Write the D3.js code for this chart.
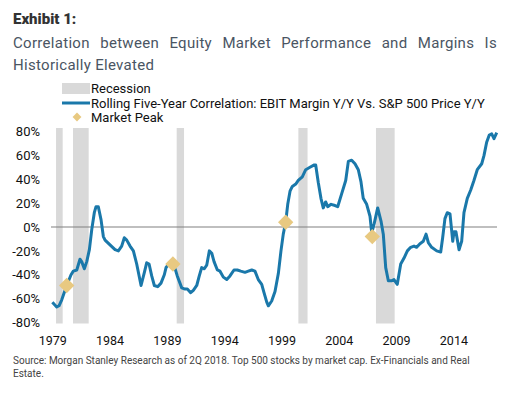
<!DOCTYPE html>
<html>
<head>
<meta charset="utf-8">
<script src="https://cdn.jsdelivr.net/npm/d3@7"></script>
<style>
	body { margin: 0; background: #fff; }
	svg { display: block; font-family: Roboto, "Noto Sans", sans-serif; }
</style>
</head>
<body>
<svg id="chart" width="517" height="398"></svg>
<script>
// quarterly readings (decimal year) and rolling 5y correlation, %
const quarters = [1979.68, 1980.06, 1980.26, 1980.50, 1980.93, 1981.31, 1981.51, 1981.81,
	1982.09, 1982.24, 1982.47, 1982.68, 1982.91, 1983.12, 1983.34, 1983.49, 1983.69, 1983.93,
	1984.13, 1984.28, 1984.71, 1985.15, 1985.44, 1985.73, 1985.96, 1986.17, 1986.46, 1986.75,
	1987.04, 1987.42, 1987.71, 1987.91, 1988.12, 1988.35, 1988.58, 1988.87, 1989.16, 1989.45,
	1989.60, 1989.95, 1990.24, 1990.58, 1990.97, 1991.26, 1991.46, 1991.75, 1991.98, 1992.28,
	1992.50, 1992.71, 1992.94, 1993.15, 1993.38, 1993.59, 1993.79, 1994.08, 1994.31, 1994.60,
	1994.90, 1995.18, 1995.53, 1995.82, 1996.12, 1996.49, 1996.78, 1997.08, 1997.36, 1997.65,
	1997.95, 1998.15, 1998.39, 1998.53, 1998.82, 1999.11, 1999.40, 1999.63, 1999.83, 2000.04,
	2000.22, 2000.42, 2000.62, 2000.92, 2001.14, 2001.49, 2001.79, 2002.16, 2002.54, 2002.66,
	2002.89, 2003.12, 2003.32, 2003.53, 2003.71, 2004.00, 2004.35, 2004.58, 2004.93, 2005.28,
	2005.51, 2005.80, 2006.09, 2006.38, 2006.61, 2006.81, 2007.11, 2007.40, 2007.55, 2007.77,
	2008.07, 2008.36, 2008.56, 2008.77, 2009.00, 2009.29, 2009.49, 2009.78, 2010.08, 2010.37,
	2010.66, 2010.95, 2011.24, 2011.47, 2011.76, 2012.05, 2012.29, 2012.49, 2012.78, 2013.22,
	2013.57, 2013.74, 2013.94, 2014.14, 2014.38, 2014.62, 2014.73, 2014.90, 2015.17, 2015.40,
	2015.60, 2015.89, 2016.19, 2016.47, 2016.76, 2017.15, 2017.35, 2017.58, 2017.81, 2018.02,
	2018.22, 2018.46];
const correlation = [-63, -67, -66, -61, -49, -40, -37, -36,
	-27, -29, -35, -29, -19, -2, 12, 17, 17, 6,
	-8, -11, -15, -19, -20, -16, -9, -11, -16, -20,
	-31, -49, -38, -30, -31, -41, -49, -50, -47, -40,
	-34, -30, -30, -41, -51, -52, -52, -55, -53, -49,
	-41, -34, -35, -32, -20, -22, -29, -36, -37, -42,
	-44, -41, -36, -36, -37, -38, -37, -36, -37, -44,
	-48, -55, -63, -66, -62, -54, -39, -20, -6, 4,
	19, 30, 34, 36, 39, 42, 48, 50, 52, 52,
	37, 24, 16, 21, 17, 19, 18, 17, 28, 39,
	55, 56, 53, 48, 38, 24, 19, 9, -5, 3,
	16, 5, -6, -34, -45, -45, -44, -48, -31, -26,
	-20, -17, -16, -17, -14, -12, -6, -13, -17, -20,
	-21, -9, 7, 12, 11, -12, -4, -4, -19, -12,
	12, 24, 31, 39, 48, 53, 60, 71, 77, 78,
	74, 79];

const recessionStart = [1980.0, 1981.48, 1990.53, 2001.15, 2007.92];
const recessionEnd = [1980.58, 1982.85, 1991.17, 2001.95, 2009.55];

const peakYears = [1980.93, 1990.2, 2000.04, 2007.6];
const peakValues = [-49, -31, 4, -8];

const tickYears = [1979, 1984, 1989, 1994, 1999, 2004, 2009, 2014];
const yTicks = [80, 60, 40, 20, 0, -20, -40, -60, -80];

const svg = d3.select('#chart');

const x = d3.scaleLinear().domain([1979.5, 2018.5]).range([50.3, 497.2]);
const y = d3.scaleLinear().domain([-80, 80]).range([322.5, 131.5]);

// title
svg.append('text')
	.attr('x', 13).attr('y', 24)
	.attr('font-size', 15).attr('font-weight', 900).attr('fill', '#333')
	.text('Exhibit 1:');

const subLines = ['Correlation between Equity Market Performance and Margins Is', 'Historically Elevated'];
subLines.forEach((s, i) => {
	let t = svg.append('text')
		.attr('x', 13).attr('y', 48 + i * 22)
		.attr('font-size', 15).attr('fill', '#4a5563')
		.attr('letter-spacing', 0.3)
		.text(s);
	if (i == 0) {
		let w = t.node().getComputedTextLength(),
			gaps = s.split(' ').length - 1;
		t.attr('word-spacing', (484 - w) / gaps);
	}
});

// legend
let lg = svg.append('g').attr('font-size', 13).attr('fill', '#111');
lg.append('rect').attr('x', 62).attr('y', 83).attr('width', 28).attr('height', 11).attr('fill', '#d9d9d9');
lg.append('text').attr('x', 91).attr('y', 93).text('Recession');
lg.append('line').attr('x1', 62).attr('x2', 90).attr('y1', 103).attr('y2', 103)
	.attr('stroke', '#1a78aa').attr('stroke-width', 3);
lg.append('text').attr('x', 91).attr('y', 108).text('Rolling Five-Year Correlation: EBIT Margin Y/Y Vs. S&P 500 Price Y/Y');
lg.append('path').attr('d', d3.symbol(d3.symbolDiamond2, 50)).attr('transform', 'translate(77,117)')
	.attr('fill', '#e8c981');
lg.append('text').attr('x', 91).attr('y', 122).text('Market Peak');

// recession bands
svg.append('g').selectAll('rect')
	.data(d3.zip(recessionStart, recessionEnd))
	.join('rect')
	.attr('x', d => x(d[0]))
	.attr('width', d => x(d[1]) - x(d[0]))
	.attr('y', 128).attr('height', 195.5)
	.attr('fill', '#d9d9d9');

// zero line
svg.append('line')
	.attr('x1', 51).attr('x2', 497)
	.attr('y1', y(0)).attr('y2', y(0))
	.attr('stroke', '#808080').attr('stroke-width', 1.2);

// y axis labels
svg.append('g').selectAll('text')
	.data(yTicks)
	.join('text')
	.attr('x', 40).attr('y', d => y(d))
	.attr('dy', '0.36em').attr('text-anchor', 'end')
	.attr('font-size', 13).attr('fill', '#111')
	.text(d => d + '%');

// x axis labels
svg.append('g').selectAll('text')
	.data(tickYears)
	.join('text')
	.attr('x', d => x(d + 0.72)).attr('y', 345)
	.attr('text-anchor', 'middle')
	.attr('font-size', 12.5).attr('fill', '#111')
	.text(d => d);

// series
let line = d3.line().x(d => x(d[0])).y(d => y(d[1]));
svg.append('path')
	.datum(d3.zip(quarters, correlation))
	.attr('d', line)
	.attr('fill', 'none').attr('stroke', '#1a78aa')
	.attr('stroke-width', 3).attr('stroke-linejoin', 'round');

svg.append('g').selectAll('path')
	.data(d3.zip(peakYears, peakValues))
	.join('path')
	.attr('d', d3.symbol(d3.symbolDiamond2, 150))
	.attr('transform', d => `translate(${x(d[0])},${y(d[1])})`)
	.attr('fill', '#e8c981');

// source
let src = svg.append('text').attr('font-size', 10).attr('fill', '#444');
src.append('tspan').attr('x', 13).attr('y', 364)
	.text('Source: Morgan Stanley Research as of 2Q 2018. Top 500 stocks by market cap. Ex-Financials and Real');
src.append('tspan').attr('x', 13).attr('y', 377).text('Estate.');
</script>
</body>
</html>
